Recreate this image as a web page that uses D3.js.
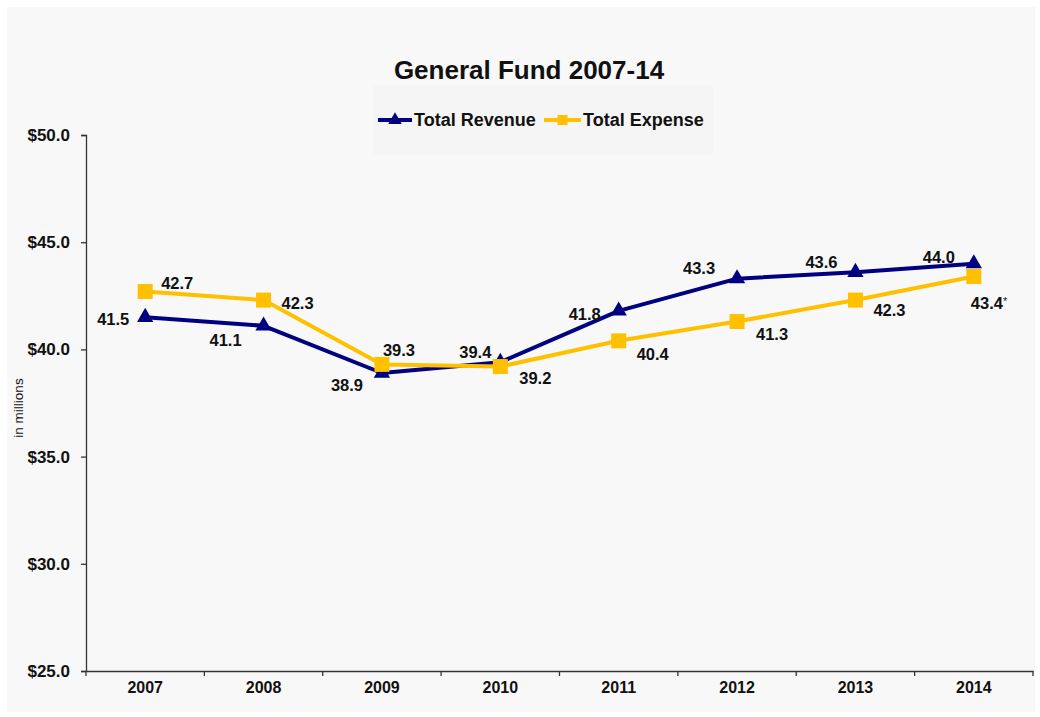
<!DOCTYPE html>
<html>
<head>
<meta charset="utf-8">
<script src="https://cdn.jsdelivr.net/npm/d3@7/dist/d3.min.js"></script>
<style>
  html, body { margin: 0; padding: 0; background: #ffffff; }
  svg { display: block; }
  text { font-family: "Liberation Sans", Arial, sans-serif; fill: #111; }
</style>
</head>
<body>
<svg id="chart" width="1040" height="717"></svg>
<script>
// General Fund revenue and expense, in millions of dollars
const years = ["2007", "2008", "2009", "2010", "2011", "2012", "2013", "2014"];
const revenue = [41.5, 41.1, 38.9, 39.4, 41.8, 43.3, 43.6, 44.0];
const expense = [42.7, 42.3, 39.3, 39.2, 40.4, 41.3, 42.3, 43.4];
const expenseNotes = ["", "", "", "", "", "", "", "*"];
const yTicks = [25, 30, 35, 40, 45, 50];
const seriesNames = ["Total Revenue", "Total Expense"];

const navy = "#000080";
const gold = "#FFC000";

const svg = d3.select("#chart");

// chart panel
svg.append("rect")
  .attr("x", 7).attr("y", 7).attr("width", 1028).attr("height", 705)
  .attr("fill", "#f8f8f8");

const x = d3.scaleBand().domain(years).range([86, 1033]).padding(0);
const y = d3.scaleLinear().domain([25, 50]).range([671, 135]);
const cx = d => x(d) + x.bandwidth() / 2;

// title
svg.append("text")
  .attr("x", 529).attr("y", 79)
  .attr("text-anchor", "middle")
  .style("font-size", "26px").style("font-weight", "bold")
  .text("General Fund 2007-14");

// legend box and entries
svg.append("rect")
  .attr("x", 373).attr("y", 85).attr("width", 340).attr("height", 70)
  .attr("fill", "#f5f5f5");

const legend = svg.append("g");
const legendItems = [
  { name: seriesNames[0], color: navy, shape: d3.symbolTriangle, size: 80, x0: 378, x1: 412, tx: 414 },
  { name: seriesNames[1], color: gold, shape: d3.symbolSquare, size: 100, x0: 544, x1: 581, tx: 583 }
];
legendItems.forEach(it => {
  legend.append("line")
    .attr("x1", it.x0).attr("x2", it.x1).attr("y1", 120).attr("y2", 120)
    .attr("stroke", it.color).attr("stroke-width", 4);
  legend.append("path")
    .attr("d", d3.symbol().type(it.shape).size(it.size)())
    .attr("transform", `translate(${(it.x0 + it.x1) / 2},120)`)
    .attr("fill", it.color);
  legend.append("text")
    .attr("x", it.tx).attr("y", 120).attr("dy", "0.36em")
    .style("font-size", "18px").style("font-weight", "bold")
    .text(it.name);
});

// y axis
const yAxis = svg.append("g")
  .attr("transform", "translate(86,0)")
  .call(d3.axisLeft(y).tickValues(yTicks).tickFormat(d => "$" + d.toFixed(1)).tickSize(5).tickPadding(11));
yAxis.select(".domain").attr("stroke", "#333").attr("stroke-width", 1.3);
yAxis.selectAll(".tick line").attr("stroke", "#333").attr("stroke-width", 1.3);
yAxis.selectAll(".tick text")
  .style("font-family", "'Liberation Sans', Arial, sans-serif")
  .style("font-size", "17px").style("font-weight", "bold").attr("fill", "#111");

// x axis
const xAxis = svg.append("g")
  .attr("transform", "translate(0,671)")
  .call(d3.axisBottom(x).tickSize(0).tickPadding(11));
xAxis.select(".domain").attr("stroke", "#333").attr("stroke-width", 1.3);
xAxis.selectAll(".tick text")
  .style("font-family", "'Liberation Sans', Arial, sans-serif")
  .style("font-size", "16px").style("font-weight", "bold").attr("fill", "#111");
// category boundary ticks
const bounds = years.map(d => x(d)).concat([x(years[years.length - 1]) + x.bandwidth()]);
xAxis.selectAll(".bound")
  .data(bounds).enter().append("line")
  .attr("x1", d => d).attr("x2", d => d)
  .attr("y1", 0).attr("y2", 5)
  .attr("stroke", "#333").attr("stroke-width", 1.3);

// axis title
svg.append("text")
  .attr("transform", "translate(23,408) rotate(-90)")
  .attr("text-anchor", "middle")
  .style("font-size", "13.5px")
  .text("in millions");

// series lines and markers
const line = d3.line().x((d, i) => cx(years[i])).y(d => y(d));

function drawSeries(values, color, shape, size) {
  const g = svg.append("g");
  g.append("path")
    .datum(values)
    .attr("d", line)
    .attr("fill", "none")
    .attr("stroke", color)
    .attr("stroke-width", 4)
    .attr("stroke-linejoin", "round");
  g.selectAll("path.mark")
    .data(values).enter().append("path")
    .attr("class", "mark")
    .attr("d", d3.symbol().type(shape).size(size)())
    .attr("transform", (d, i) => `translate(${cx(years[i])},${y(d)})`)
    .attr("fill", color);
}
drawSeries(revenue, navy, d3.symbolTriangle, 115);
drawSeries(expense, gold, d3.symbolSquare, 225);

// value labels: offsets from each point to the label centre
const revenueLabelPos = [[-32, 2], [-38, 14], [-35, 12], [-25, -10], [-34, 3], [-38, -11], [-34, -10], [-35, -7]];
const expenseLabelPos = [[32, -8], [34, 3], [17, -14], [35, 12], [34, 13], [35, 13], [34, 10], [-3, 27]];

const labels = svg.append("g")
  .style("font-size", "16.5px").style("font-weight", "bold");

revenue.forEach((v, i) => {
  labels.append("text")
    .attr("x", cx(years[i]) + revenueLabelPos[i][0])
    .attr("y", y(v) + revenueLabelPos[i][1])
    .attr("dy", "0.36em")
    .attr("text-anchor", "middle")
    .text(v.toFixed(1));
});
expense.forEach((v, i) => {
  const t = labels.append("text")
    .attr("x", cx(years[i]) + expenseLabelPos[i][0])
    .attr("y", y(v) + expenseLabelPos[i][1])
    .attr("dy", "0.36em")
    .attr("text-anchor", expenseNotes[i] ? "start" : "middle")
    .text(v.toFixed(1));
  if (expenseNotes[i]) {
    t.append("tspan")
      .attr("dy", "-0.4em")
      .style("font-size", "11px")
      .style("font-weight", "normal")
      .text(expenseNotes[i]);
  }
});
</script>
</body>
</html>
